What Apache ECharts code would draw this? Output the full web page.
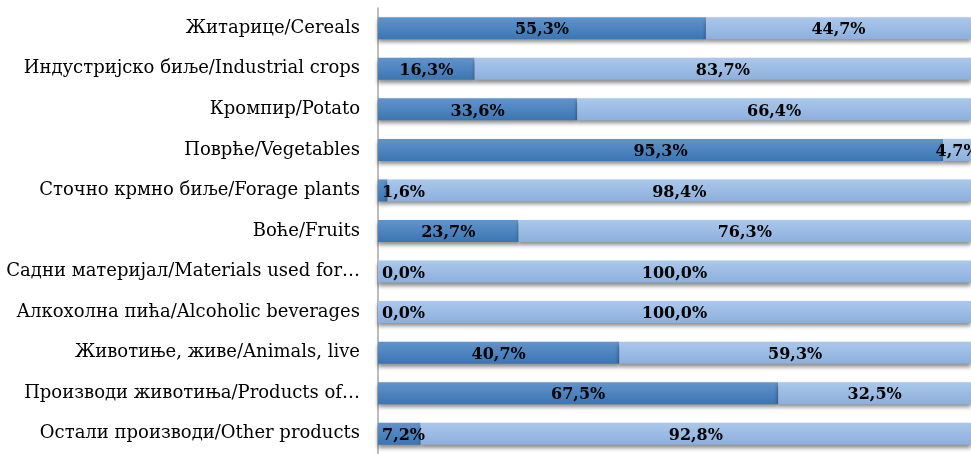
<!DOCTYPE html>
<html>
<head>
<meta charset="utf-8">
<script src="https://cdn.jsdelivr.net/npm/echarts@6/dist/echarts.min.js"></script>
<style>html,body{margin:0;padding:0;background:#fff;}#c{width:971px;height:454px;}</style>
</head>
<body>
<div id="c"></div>
<script>
const categories = [
  'Житарице/Cereals',
  'Индустријско биље/Industrial crops',
  'Кромпир/Potato',
  'Поврће/Vegetables',
  'Сточно крмно биље/Forage plants',
  'Воће/Fruits',
  'Садни материјал/Materials used for…',
  'Алкохолна пића/Alcoholic beverages',
  'Животиње, живе/Animals, live',
  'Производи животиња/Products of…',
  'Остали производи/Other products'
];
const darkValues = [55.3, 16.3, 33.6, 95.3, 1.6, 23.7, 0.0, 0.0, 40.7, 67.5, 7.2];
const lightValues = [44.7, 83.7, 66.4, 4.7, 98.4, 76.3, 100.0, 100.0, 59.3, 32.5, 92.8];

const fmt = p => p.value.toFixed(1).replace('.', ',') + '%';
const labelFont = { fontFamily: 'DejaVu Serif', fontWeight: 'bold', fontSize: 16, color: '#000' };

function grad(top, bottom) {
  return new echarts.graphic.LinearGradient(0, 0, 0, 1, [
    { offset: 0, color: top }, { offset: 1, color: bottom }
  ]);
}
const shadow = { shadowColor: 'rgba(0,0,0,0.45)', shadowBlur: 4, shadowOffsetY: 3 };

const darkData = darkValues.map(v => v < 10 ? {
  value: v,
  label: { position: 'insideLeft', distance: 4 }
} : v);

const chart = echarts.init(document.getElementById('c'), null, { renderer: 'canvas' });
chart.setOption({
  animation: false,
  grid: { left: 378, right: 0, top: 8, bottom: -8, containLabel: false },
  xAxis: { type: 'value', min: 0, max: 100, show: false },
  yAxis: {
    type: 'category', data: categories, inverse: true,
    axisLine: { show: true, lineStyle: { color: '#a6a6a6', width: 1.5 } },
    axisTick: { show: false },
    axisLabel: { fontFamily: 'DejaVu Serif', fontSize: 18, color: '#000', margin: 18 }
  },
  series: [
    {
      type: 'bar', stack: 't', data: darkData, barWidth: 22,
      itemStyle: Object.assign({ color: grad('#6293cb', '#3a76b3') }, shadow),
      label: Object.assign({ show: true, position: 'inside', formatter: fmt, offset: [0, 2] }, labelFont)
    },
    {
      type: 'bar', stack: 't', data: lightValues, barWidth: 22,
      itemStyle: Object.assign({ color: grad('#abc8eb', '#8cafdd') }, shadow),
      label: Object.assign({ show: true, position: 'inside', formatter: fmt, offset: [0, 2] }, labelFont)
    }
  ]
});
</script>
</body>
</html>
